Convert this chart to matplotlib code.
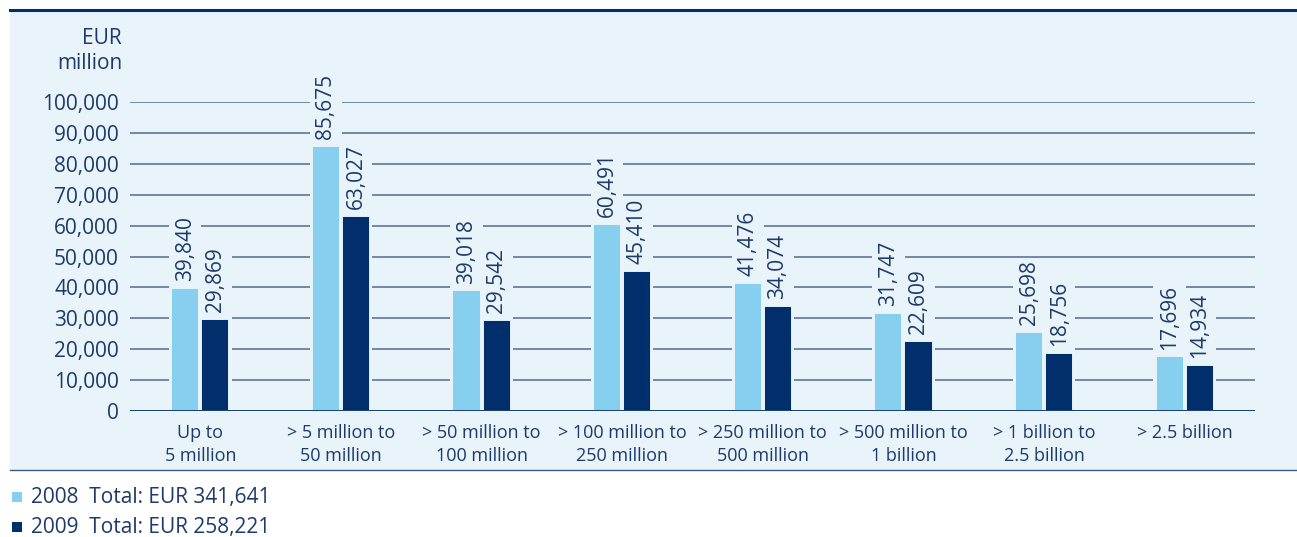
import matplotlib.pyplot as plt
from matplotlib.patches import Rectangle
import numpy as np

categories = ["Up to\n5 million", "> 5 million to\n50 million", "> 50 million to\n100 million",
              "> 100 million to\n250 million", "> 250 million to\n500 million",
              "> 500 million to\n1 billion", "> 1 billion to\n2.5 billion", "> 2.5 billion"]
v2008 = [39840, 85675, 39018, 60491, 41476, 31747, 25698, 17696]
v2009 = [29869, 63027, 29542, 45410, 34074, 22609, 18756, 14934]
legend_labels = ["2008  Total: EUR 341,641", "2009  Total: EUR 258,221"]

BG = "#e8f3fa"
LIGHT = "#86cfee"
DARK = "#002f6c"
TXT = "#1d3a6b"
GRID = "#5d7598"

plt.rcParams['font.family'] = ['Open Sans', 'DejaVu Sans']

W, H = 1297, 537
fig = plt.figure(figsize=(W / 100, H / 100), dpi=100)

# background panel
panel = Rectangle((10 / W, 1 - 470 / H), 1 - 10 / W, (470 - 10) / H,
                  transform=fig.transFigure, facecolor=BG, edgecolor="none", zorder=-10)
fig.add_artist(panel)
fig.add_artist(plt.Line2D([10 / W, 1], [1 - 10 / H] * 2, color=DARK, lw=2.2, zorder=-9))
fig.add_artist(plt.Line2D([10 / W, 1], [1 - 470 / H] * 2, color="#3b5a86", lw=1.0, zorder=-9))

ax = fig.add_axes([130 / W, 1 - 411 / H, (1255 - 130) / W, (411 - 102) / H])
ax.set_facecolor("none")
ax.set_xlim(-0.5, 7.5)
ax.set_ylim(0, 100000)

x = np.arange(len(categories))
bw = 0.2
off = 0.107
ax.bar(x - off, v2008, bw, color=LIGHT, edgecolor=BG, linewidth=1.4, zorder=3)
ax.bar(x + off, v2009, bw, color=DARK, edgecolor=BG, linewidth=1.4, zorder=3)

texts = []
for xs, vals in ((x - off, v2008), (x + off, v2009)):
    for xi, v in zip(xs, vals):
        t = ax.text(xi, v + 2200, f"{v:,}", rotation=90, ha="center", va="bottom",
                    fontsize=15, color=TXT, zorder=4, clip_on=False)
        texts.append((xi, t))

# break gridlines over each bar column up to the top of its label
renderer = fig.canvas.get_renderer()
inv = ax.transData.inverted()
margin = 0.015
for xi, t in texts:
    bb = t.get_window_extent(renderer)
    top = inv.transform((bb.x0, bb.y1))[1] + 700
    ax.add_patch(Rectangle((xi - bw / 2 - margin, 0), bw + 2 * margin, top,
                           facecolor=BG, edgecolor="none", zorder=2, clip_on=False))

yt = np.arange(0, 100001, 10000)
for y in yt[1:]:
    ax.axhline(y, color=GRID, lw=1.2, zorder=1)
ax.axhline(0, color=DARK, lw=2, zorder=5)

ax.set_yticks(yt)
ax.set_yticklabels([f"{v:,}" for v in yt], fontsize=15, color=TXT)
ax.set_xticks(x)
ax.set_xticklabels(categories, fontsize=13, color=TXT, linespacing=1.4)
ax.tick_params(length=0, pad=8)
ax.tick_params(axis="x", pad=9)
for s in ax.spines.values():
    s.set_visible(False)

fig.text(122 / W, 1 - 74 / H, "EUR\nmillion", ha="right", va="bottom", fontsize=15,
         color=TXT, linespacing=1.25)

for i, (lab, col) in enumerate(zip(legend_labels, [LIGHT, DARK])):
    yc = 497 + 30 * i
    fig.add_artist(Rectangle((12 / W, 1 - (yc + 5) / H), 10 / W, 10 / H,
                             transform=fig.transFigure, facecolor=col, edgecolor="none"))
    fig.text(31 / W, 1 - yc / H, lab, ha="left", va="center", fontsize=15, color=TXT)

fig.savefig("out.png", dpi=100)
